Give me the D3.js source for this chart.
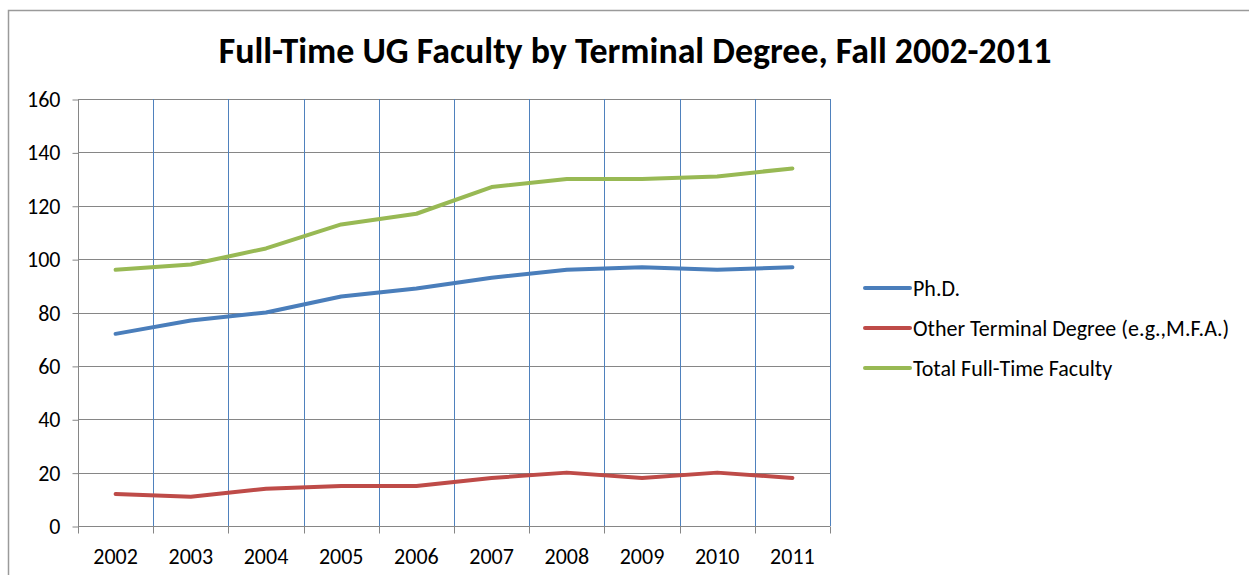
<!DOCTYPE html>
<html>
<head>
<meta charset="utf-8">
<script src="https://cdn.jsdelivr.net/npm/d3@7"></script>
<style>
  html, body { margin: 0; padding: 0; background: #fff; }
  svg { display: block; }
  text { font-family: Carlito, Lato, "Open Sans", sans-serif; fill: #000; }
</style>
</head>
<body>
<svg id="chart" width="1249" height="575"></svg>
<script>
// Fall headcounts of full-time undergraduate faculty
const years = ["2002", "2003", "2004", "2005", "2006", "2007", "2008", "2009", "2010", "2011"];
const phd = [72, 77, 80, 86, 89, 93, 96, 97, 96, 97];
const otherTerminal = [12, 11, 14, 15, 15, 18, 20, 18, 20, 18];
const totalFaculty = [96, 98, 104, 113, 117, 127, 130, 130, 131, 134];
const yTicks = [0, 20, 40, 60, 80, 100, 120, 140, 160];
const seriesNames = ["Ph.D.", "Other Terminal Degree (e.g.,M.F.A.)", "Total Full-Time Faculty"];
const seriesColors = ["#4A7EBB", "#BE4B48", "#98B954"];

const series = [phd, otherTerminal, totalFaculty].map((vals, i) => ({
  name: seriesNames[i], color: seriesColors[i], values: vals
}));

const FONT = "Carlito, Lato, 'Open Sans', sans-serif";
const LABEL_SIZE = 22;

const svg = d3.select("#chart");
const plot = { left: 78, top: 99, right: 830, bottom: 526 };

// chart frame (only top and left edges fall inside the window)
svg.append("path")
  .attr("d", "M8.5,575 V10.5 H1249")
  .attr("fill", "none").attr("stroke", "#9a9a9a").attr("stroke-width", 1.5);

// title, sized to span its measured width
const title = svg.append("text")
  .attr("x", 635).attr("y", 63)
  .attr("text-anchor", "middle")
  .attr("font-size", 30).attr("font-weight", "bold")
  .text("Full-Time UG Faculty by Terminal Degree, Fall 2002-2011");
const tw = title.node().getComputedTextLength();
title.attr("font-size", 30 * 833 / tw);

const x = d3.scaleBand().domain(years).range([plot.left, plot.right]);
const y = d3.scaleLinear().domain([0, 160]).range([plot.bottom, plot.top]);

const g = svg.append("g");

// horizontal gridlines
g.selectAll(".hgrid").data(yTicks.filter(t => t > 0)).join("line")
  .attr("x1", plot.left).attr("x2", plot.right)
  .attr("y1", d => Math.round(y(d)) + 0.5).attr("y2", d => Math.round(y(d)) + 0.5)
  .attr("stroke", "#868686").attr("stroke-width", 1);

// vertical gridlines between categories
const bounds = years.map(d => x(d)).slice(1).concat([plot.right]);
g.selectAll(".vgrid").data(bounds).join("line")
  .attr("x1", d => Math.round(d) + 0.5).attr("x2", d => Math.round(d) + 0.5)
  .attr("y1", plot.top).attr("y2", plot.bottom)
  .attr("stroke", "#4F81BD").attr("stroke-width", 1);

// y axis
const yAxis = d3.axisLeft(y).tickValues(yTicks).tickSize(6).tickPadding(6);
const ya = svg.append("g").attr("transform", `translate(${plot.left + 0.5},0.5)`).call(yAxis);
ya.select(".domain").attr("stroke", "#868686").attr("d", `M0,${plot.bottom}V${plot.top}`);
ya.selectAll(".tick line").attr("stroke", "#868686");
ya.selectAll(".tick text").attr("font-size", LABEL_SIZE).attr("font-family", FONT)
  .attr("fill", "#000").attr("x", -18);

// x axis with ticks at category boundaries
const xAxis = d3.axisBottom(x).tickSize(0).tickPadding(22);
const xa = svg.append("g").attr("transform", `translate(0,${plot.bottom + 0.5})`).call(xAxis);
xa.select(".domain").attr("stroke", "#868686").attr("d", `M${plot.left},0H${plot.right}`);
xa.selectAll(".tick text").attr("font-size", LABEL_SIZE).attr("font-family", FONT).attr("fill", "#000");
xa.selectAll(".bt").data([plot.left].concat(bounds)).join("line")
  .attr("x1", d => Math.round(d) + 0.5).attr("x2", d => Math.round(d) + 0.5)
  .attr("y1", 0).attr("y2", 7).attr("stroke", "#868686");

// series lines
const line = d3.line()
  .x((d, i) => x(years[i]) + x.bandwidth() / 2)
  .y(d => y(d));

svg.append("g").selectAll("path").data(series).join("path")
  .attr("d", d => line(d.values))
  .attr("fill", "none").attr("stroke", d => d.color)
  .attr("stroke-width", 4).attr("stroke-linecap", "round").attr("stroke-linejoin", "round");

// legend
const legend = svg.append("g").attr("transform", "translate(865,0)");
const rowY = [288, 328, 368];
const items = legend.selectAll("g").data(series).join("g")
  .attr("transform", (d, i) => `translate(0,${rowY[i]})`);
items.append("line").attr("x1", 0).attr("x2", 45).attr("y1", 0).attr("y2", 0)
  .attr("stroke", d => d.color).attr("stroke-width", 4).attr("stroke-linecap", "round");
items.append("text").attr("x", 48).attr("y", 0).attr("dy", "0.35em")
  .attr("font-size", LABEL_SIZE).text(d => d.name);
</script>
</body>
</html>
